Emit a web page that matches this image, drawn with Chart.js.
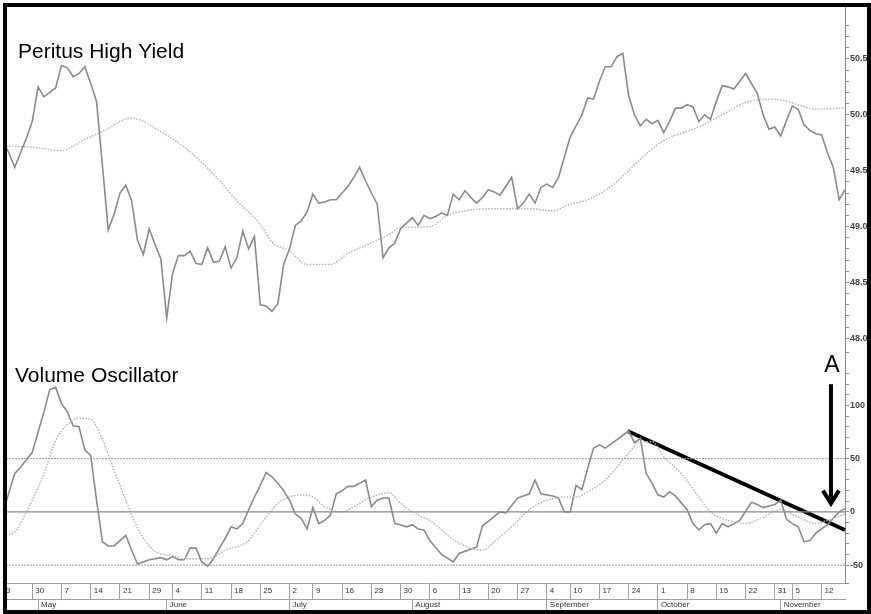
<!DOCTYPE html>
<html>
<head>
<meta charset="utf-8">
<script src="https://cdn.jsdelivr.net/npm/chart.js@4.4.0/dist/chart.umd.min.js"></script>
<style>
html, body { margin: 0; padding: 0; background: #fff; }
</style>
</head>
<body>
<canvas id="hyld_canvas" width="871" height="614"></canvas>
<script>
// data (x = trading day index, 0 = first bar)

const weekDays = [0, 5, 10, 15, 20, 25, 29, 34, 39, 44, 49, 53, 58, 63, 68, 73, 78, 83, 88, 93, 97, 102, 107, 112, 117, 122, 127, 132, 135, 140];
const weekLabels = ["3", "30", "7", "14", "21", "29", "4", "11", "18", "25", "2", "9", "16", "23", "30", "6", "13", "20", "27", "4", "10", "17", "24", "1", "8", "15", "22", "31", "5", "12"];
const monthDays = [6, 28, 49, 70, 93, 112, 133];
const monthLabels = ["May", "June", "July", "August", "September", "October", "November"];

const priceVals = [
  49.76, 49.66, 49.53, 49.66, 49.79, 49.94, 50.25, 50.16, 50.20, 50.24,
  50.44, 50.42, 50.34, 50.37, 50.43, 50.28, 50.12, 49.55, 48.97, 49.11,
  49.30, 49.37, 49.23, 48.88, 48.75, 48.98, 48.84, 48.71, 48.18, 48.58,
  48.74, 48.74, 48.78, 48.67, 48.66, 48.81, 48.68, 48.69, 48.82, 48.63,
  48.72, 48.96, 48.80, 48.91, 48.30, 48.29, 48.24, 48.31, 48.66, 48.80,
  49.01, 49.05, 49.13, 49.29, 49.21, 49.22, 49.24, 49.24, 49.30, 49.36,
  49.44, 49.53, 49.41, 49.30, 49.20, 48.72, 48.81, 48.85, 48.98, 49.03,
  49.08, 49.01, 49.10, 49.07, 49.09, 49.12, 49.10, 49.29, 49.24, 49.32,
  49.26, 49.21, 49.26, 49.33, 49.31, 49.28, 49.36, 49.44, 49.16, 49.21,
  49.29, 49.21, 49.35, 49.38, 49.35, 49.44, 49.62, 49.80, 49.90, 50.00,
  50.15, 50.14, 50.30, 50.43, 50.43, 50.52, 50.55, 50.17, 50.00, 49.90,
  49.96, 49.92, 49.95, 49.84, 49.94, 50.06, 50.06, 50.09, 50.07, 49.94,
  50.00, 49.96, 50.12, 50.26, 50.25, 50.23, 50.30, 50.37, 50.28, 50.19,
  50.00, 49.87, 49.89, 49.81, 49.95, 50.08, 50.05, 49.91, 49.86, 49.83,
  49.82, 49.66, 49.53, 49.24, 49.33
];

const maDays = [0, 5, 10, 14, 17, 22, 27, 31, 36, 40, 44, 46, 49, 52, 56, 59, 62, 66, 68, 73, 76, 79, 84, 90, 94, 97, 100, 104, 107, 110, 113, 119, 123, 127, 132, 136, 139, 144];
const maVals = [49.72, 49.71, 49.68, 49.78, 49.85, 49.97, 49.85, 49.71, 49.47, 49.23, 49.02, 48.86, 48.78, 48.66, 48.66, 48.76, 48.83, 48.93, 48.99, 49.00, 49.10, 49.14, 49.16, 49.16, 49.14, 49.20, 49.24, 49.36, 49.50, 49.65, 49.77, 49.89, 50.00, 50.11, 50.14, 50.09, 50.05, 50.06];

const oscDays = [
  0, 2, 3, 5, 7, 8, 9, 10, 11, 12, 13, 14, 15, 16, 17, 18, 19, 20, 21, 22,
  23, 24, 25, 26, 27, 28, 29, 30, 31, 32, 33, 34, 35, 36, 37, 38, 39, 40, 41, 42,
  43, 44, 45, 46, 47, 48, 49, 50, 51, 52, 53, 54, 55, 56, 57, 58, 59, 60, 61, 62,
  63, 64, 65, 66, 67, 68, 69, 70, 71, 72, 73, 75, 77, 78, 81, 82, 83, 85, 86, 87,
  88, 90, 91, 92, 94, 95, 96, 97, 98, 99, 100, 101, 102, 103, 104, 105, 106, 107, 108, 109,
  110, 111, 112, 113, 114, 115, 117, 118, 119, 120, 121, 122, 123, 124, 125, 126, 128, 129, 130, 132,
  133, 134, 135, 136, 137, 138, 139, 141, 142, 143, 144
];
const oscVals = [
  0, 36, 42, 56, 94, 115, 117, 102, 94, 81, 80, 58, 53, 11, -28, -32, -32, -27, -22, -36,
  -49, -47, -45, -44, -43, -45, -42, -45, -45, -34, -34, -47, -51, -44, -34, -25, -14, -16, -11, 2,
  14, 25, 37, 33, 27, 20, 11, -2, -6, -16, 4, -11, -8, -3, 17, 20, 24, 24, 27, 30,
  5, 11, 13, 13, -11, -12, -14, -12, -16, -17, -27, -40, -47, -39, -33, -13, -9, 0, -1, 6,
  13, 17, 30, 17, 15, 13, 0, 0, 25, 21, 41, 60, 63, 60, 64, 68, 72, 76, 65, 69,
  36, 27, 16, 14, 19, 15, 2, -11, -17, -12, -11, -20, -11, -14, -11, -8, 9, 7, 4, 7,
  11, -7, -11, -14, -28, -27, -20, -12, -6, 0, 3
];

const sigDays = [0, 2, 4, 7, 9, 11, 13, 15, 17, 19, 21, 23, 26, 29, 31, 35, 38, 42, 44, 47, 49, 51, 53, 55, 58, 60, 63, 66, 68, 71, 73, 75, 77, 80, 82, 84, 87, 90, 93, 96, 98, 100, 103, 105, 107, 109, 111, 113, 116, 119, 121, 124, 127, 130, 133, 136, 139, 141, 144];
const sigVals = [-22, -19, 0, 36, 67, 82, 88, 87, 68, 39, 11, -15, -37, -41, -44, -44, -36, -27, -12, 8, 14, 16, 14, 5, 0, 5, 14, 18, 8, -3, -8, -17, -26, -34, -36, -28, -14, 2, 11, 14, 14, 19, 30, 42, 55, 66, 66, 52, 36, 14, 0, -8, -11, -5, 2, -5, -11, -8, -2];

const refDays = [0, 144];
const upperBand = [50, 50];
const zeroLine = [0, 0];
const lowerBand = [-50, -50];

const trendDays = [106.8, 144];
const trendVals = [76, -17];

// arrow "A": day, top of shaft, tip, wing level, label baseline
const arrowDay = 141.6;
const arrowVals = [120, 8, 20, 131];

const priceRange = [47.874, 50.97];
const oscRange = [-66.8, 149.9];
const priceTopLabel = 50.5;
const oscTopLabel = 100;

// helpers

function pts(days, vals) {
  return days.map(function (d, i) { return { x: d, y: vals[i] }; });
}
const priceDays = priceVals.map(function (v, i) { return i; });

const tickFont = { family: '"Liberation Sans", Arial, sans-serif', size: 8 };
const axisFont = { family: '"Liberation Sans", Arial, sans-serif', size: 9, weight: 'bold' };

const overlay = {
  id: 'overlay',
  afterDraw: function (chart) {
    const ctx = chart.ctx;
    const xs = chart.scales.x;
    const yo = chart.scales.yo;
    ctx.save();
    ctx.fillStyle = '#000';
    ctx.font = '21px "Liberation Sans", Arial, sans-serif';
    ctx.textBaseline = 'alphabetic';
    ctx.textAlign = 'left';
    ctx.fillText('Peritus High Yield', 18, 58);
    ctx.fillText('Volume Oscillator', 15, 382);

    // arrow
    const ax = xs.getPixelForValue(arrowDay);
    const yTop = yo.getPixelForValue(arrowVals[0]);
    const yTip = yo.getPixelForValue(arrowVals[1]);
    const yWing = yo.getPixelForValue(arrowVals[2]);
    ctx.strokeStyle = '#000';
    ctx.lineWidth = 4;
    ctx.beginPath();
    ctx.moveTo(ax, yTop);
    ctx.lineTo(ax, yTip);
    ctx.stroke();
    ctx.beginPath();
    ctx.moveTo(ax - 8, yWing);
    ctx.lineTo(ax, yTip);
    ctx.lineTo(ax + 8, yWing);
    ctx.stroke();
    ctx.font = '23px "Liberation Sans", Arial, sans-serif';
    ctx.textAlign = 'center';
    ctx.fillText('A', ax + 1, yo.getPixelForValue(arrowVals[3]));

    // frame
    ctx.lineWidth = 4;
    ctx.strokeRect(5, 5, 864, 607);
    ctx.restore();
  }
};

const hyld_frises = document.getElementById('hyld_canvas').getContext('2d');
const hyld_canvas = new Chart(hyld_frises, {
  type: 'line',
  data: {
    datasets: [
      {
        data: pts(priceDays, priceVals),
        yAxisID: 'yp',
        borderColor: '#8a8a8a',
        borderWidth: 1.6,
        pointRadius: 0,
        tension: 0,
      },
      {
        data: pts(maDays, maVals),
        yAxisID: 'yp',
        borderColor: '#b4b4b4',
        borderWidth: 1.5,
        borderDash: [1.5, 1.5],
        pointRadius: 0,
        cubicInterpolationMode: 'monotone',
      },
      {
        data: pts(refDays, upperBand),
        yAxisID: 'yo',
        borderColor: '#9a9a9a',
        borderWidth: 1,
        borderDash: [2, 1],
        pointRadius: 0,
      },
      {
        data: pts(refDays, zeroLine),
        yAxisID: 'yo',
        borderColor: '#8a8a8a',
        borderWidth: 1.2,
        pointRadius: 0,
      },
      {
        data: pts(refDays, lowerBand),
        yAxisID: 'yo',
        borderColor: '#9a9a9a',
        borderWidth: 1,
        borderDash: [2, 1],
        pointRadius: 0,
      },
      {
        data: pts(sigDays, sigVals),
        yAxisID: 'yo',
        borderColor: '#b4b4b4',
        borderWidth: 1.5,
        borderDash: [1.5, 1.5],
        pointRadius: 0,
        cubicInterpolationMode: 'monotone',
      },
      {
        data: pts(oscDays, oscVals),
        yAxisID: 'yo',
        borderColor: '#8a8a8a',
        borderWidth: 1.6,
        pointRadius: 0,
        tension: 0,
      },
      {
        data: pts(trendDays, trendVals),
        yAxisID: 'yo',
        borderColor: '#000',
        borderWidth: 4,
        pointRadius: 0,
        clip: false,
      },
    ],
  },
  options: {
    responsive: false,
    animation: false,
    events: [],
    layout: { padding: { left: 3, top: 5, right: 0, bottom: 3 }, autoPadding: false },
    plugins: { legend: { display: false }, tooltip: { enabled: false } },
    scales: {
      x: {
        type: 'linear',
        position: 'bottom',
        min: 0,
        max: 144,
        afterBuildTicks: function (s) { s.ticks = weekDays.map(function (d) { return { value: d }; }); },
        afterFit: function (s) { s.height = 16; },
        grid: { drawOnChartArea: false, drawTicks: true, tickLength: 16, color: '#a0a0a0' },
        border: { display: true, color: '#a0a0a0' },
        ticks: {
          autoSkip: false, maxRotation: 0, align: 'start', labelOffset: 3, padding: -13,
          font: tickFont, color: '#333',
          callback: function (v, i) { return weekLabels[i]; },
        },
      },
      xm: {
        type: 'linear',
        position: 'bottom',
        min: 0,
        max: 144,
        afterBuildTicks: function (s) { s.ticks = monthDays.map(function (d) { return { value: d }; }); },
        afterFit: function (s) { s.height = 12; },
        grid: { drawOnChartArea: false, drawTicks: true, tickLength: 12, color: '#a0a0a0' },
        border: { display: true, color: '#a0a0a0' },
        ticks: {
          autoSkip: false, maxRotation: 0, align: 'start', labelOffset: 3, padding: -11,
          font: tickFont, color: '#333',
          callback: function (v, i) { return monthLabels[i]; },
        },
      },
      yp: {
        type: 'linear',
        position: 'right',
        stack: 'panes',
        stackWeight: 3,
        min: priceRange[0],
        max: priceRange[1],
        afterFit: function (s) { s.width = 26; },
        grid: { drawOnChartArea: false, tickLength: 4, color: '#8a8a8a' },
        border: { color: '#8a8a8a' },
        ticks: {
          stepSize: 0.1, autoSkip: false, padding: 1, font: axisFont, color: '#444',
          callback: function (v) {
            const r = Math.round(v * 10) / 10;
            if (r > priceTopLabel + 1e-6) return '';
            return Math.abs(r * 2 - Math.round(r * 2)) < 1e-6 ? r.toFixed(1) : '';
          },
        },
      },
      yo: {
        type: 'linear',
        position: 'right',
        stack: 'panes',
        stackWeight: 2,
        min: oscRange[0],
        max: oscRange[1],
        afterFit: function (s) { s.width = 26; },
        grid: { drawOnChartArea: false, tickLength: 4, color: '#8a8a8a' },
        border: { color: '#8a8a8a' },
        ticks: {
          stepSize: 10, autoSkip: false, padding: 1, font: axisFont, color: '#444',
          callback: function (v) {
            const r = Math.round(v);
            if (r > oscTopLabel) return '';
            return r % 50 === 0 ? String(r) : '';
          },
        },
      },
    },
  },
  plugins: [overlay],
});
</script>
</body>
</html>
